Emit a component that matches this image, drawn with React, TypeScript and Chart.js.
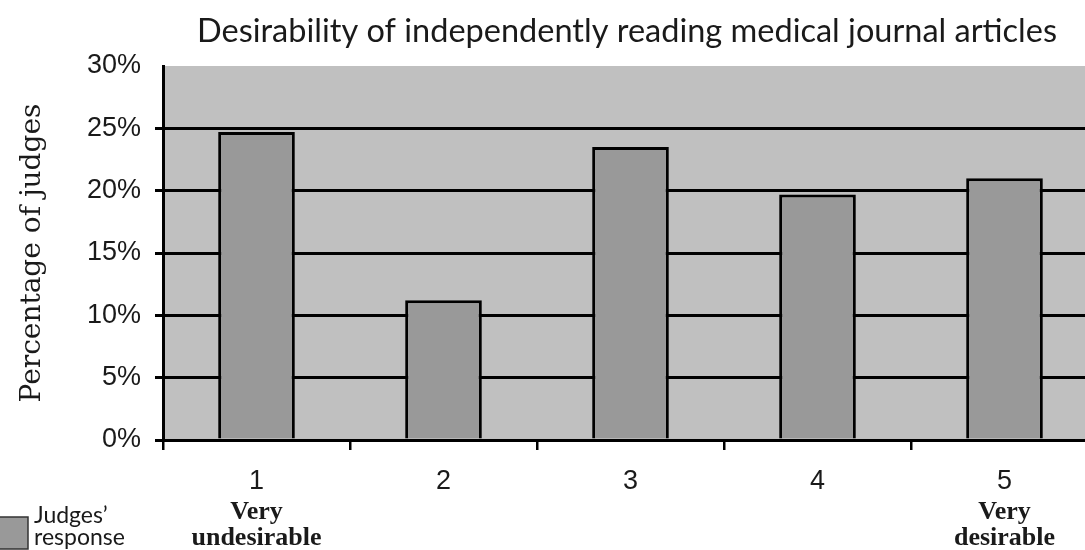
import React, { useEffect, useRef } from "react";
import { Chart, registerables } from "chart.js";

Chart.register(...registerables);

const categories = ["1", "2", "3", "4", "5"];
const judgesResponse = [24.7, 11.2, 23.5, 19.7, 21.0];
const yTicks = [0, 5, 10, 15, 20, 25, 30];
const chartTitle = "Desirability of independently reading medical journal articles";
const yTitle = "Percentage of judges";
const endLabels = [
  { index: 0, lines: ["Very", "undesirable"] },
  { index: 4, lines: ["Very", "desirable"] },
];
const legendLines = ["Judges’", "response"];

const BAR = "#999999";
const BG = "#c0c0c0";

const decorPlugin = {
  id: "decor",
  beforeDraw(chart: any) {
    const { ctx, chartArea } = chart;
    ctx.save();
    ctx.fillStyle = BG;
    ctx.fillRect(chartArea.left, chartArea.top, chartArea.right - chartArea.left, chartArea.bottom - chartArea.top);
    ctx.restore();
  },
  afterDraw(chart: any) {
    const { ctx } = chart;
    const xs = chart.scales.x;
    ctx.save();
    ctx.fillStyle = "#1a1a1a";
    ctx.textAlign = "center";
    ctx.textBaseline = "middle";
    ctx.font = "32.5px Lato";
    ctx.fillText(chartTitle, 627, 32);

    ctx.font = "bold 26px 'Liberation Serif'";
    endLabels.forEach((e) => {
      const x = xs.getPixelForValue(e.index);
      e.lines.forEach((l, i) => ctx.fillText(l, x, 512 + i * 26));
    });

    // legend
    ctx.fillStyle = BAR;
    ctx.fillRect(-2, 517, 30, 32);
    ctx.strokeStyle = "#333";
    ctx.lineWidth = 1.5;
    ctx.strokeRect(-2, 517, 30, 32);
    ctx.fillStyle = "#1a1a1a";
    ctx.textAlign = "left";
    ctx.font = "23px Lato";
    legendLines.forEach((l, i) => ctx.fillText(l, 34, 516 + i * 22));
    ctx.restore();
  },
};

export default function App() {
  const ref = useRef<HTMLCanvasElement>(null);
  useEffect(() => {
    if (!ref.current) return;
    const chart = new Chart(ref.current, {
      type: "bar",
      data: {
        labels: categories,
        datasets: [
          {
            label: legendLines.join(" "),
            data: judgesResponse,
            backgroundColor: BAR,
            borderColor: "#000",
            borderWidth: 3,
            barPercentage: 0.41,
            categoryPercentage: 1,
          },
        ],
      },
      options: {
        animation: false,
        responsive: false,
        devicePixelRatio: 1,
        layout: { padding: { top: 66, left: 0, right: 12, bottom: 0 } },
        plugins: { legend: { display: false }, title: { display: false }, tooltip: { enabled: false } },
        scales: {
          x: {
            offset: true,
            afterFit: (s: any) => {
              s.height = 110;
            },
            grid: { drawOnChartArea: false, drawTicks: true, tickLength: 10, color: "#000", lineWidth: 2.5, offset: true },
            border: { color: "#000", width: 3 },
            ticks: { color: "#1a1a1a", font: { family: "'Liberation Sans'", size: 27 }, padding: 15 },
          },
          y: {
            min: 0,
            max: 30,
            afterFit: (s: any) => {
              s.width = 163;
            },
            afterBuildTicks: (s: any) => {
              s.ticks = yTicks.map((v) => ({ value: v }));
            },
            grid: {
              color: (c: any) => (c.tick && c.tick.value === 30 ? "rgba(0,0,0,0)" : "#000"),
              lineWidth: 3,
              tickLength: 8,
            },
            border: { color: "#000", width: 3 },
            ticks: {
              color: "#1a1a1a",
              font: { family: "'Liberation Sans'", size: 27 },
              padding: 14,
              callback: (v: any) => v + "%",
            },
            title: {
              display: true,
              text: yTitle,
              color: "#1a1a1a",
              font: { family: "'DejaVu Serif'", size: 28 },
              padding: { top: 16, bottom: 0 },
            },
          },
        },
      },
      plugins: [decorPlugin],
    });
    return () => chart.destroy();
  }, []);
  return (
    <div style={{ position: "fixed", left: 0, top: 0, width: 1085, height: 550, overflow: "hidden", background: "#fff" }}>
      <canvas ref={ref} width={1110} height={550} style={{ display: "block" }} />
    </div>
  );
}
